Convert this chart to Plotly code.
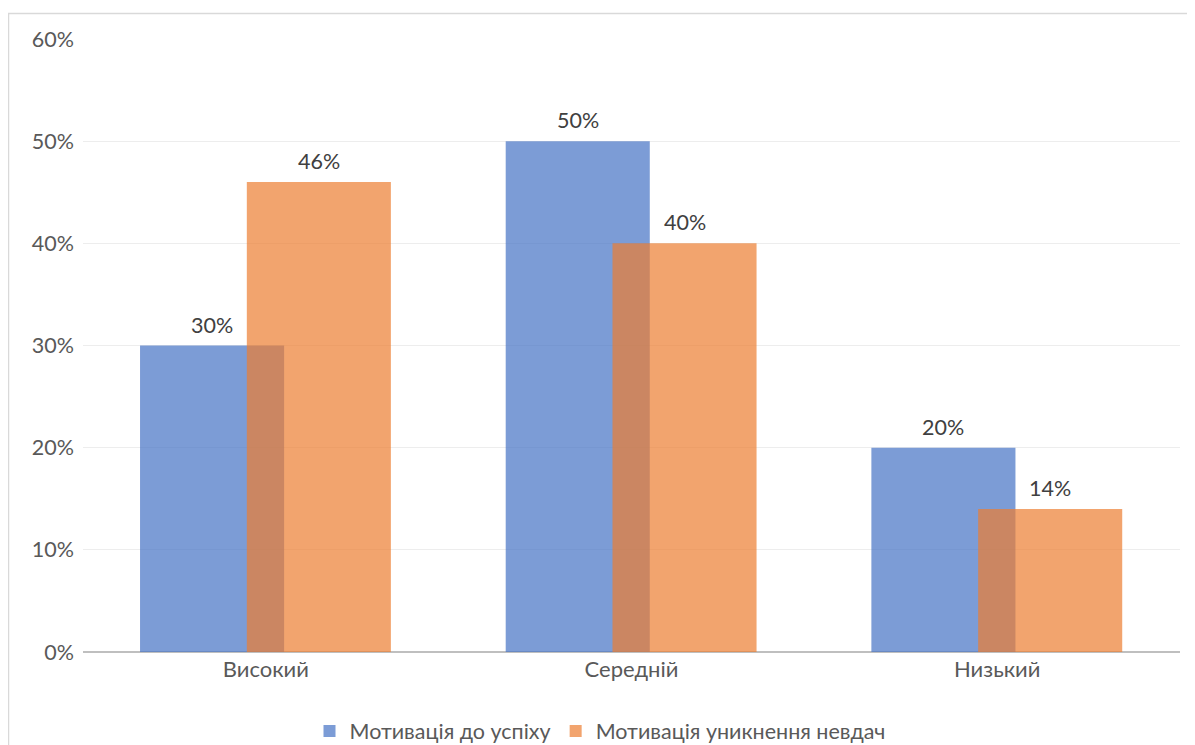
import plotly.graph_objects as go

categories = ["Високий", "Середній", "Низький"]
success = [30, 50, 20]
avoid = [46, 40, 14]
series_names = ["Мотивація до успіху", "Мотивація уникнення невдач"]

# page body adds an 8px margin; figure coordinates are screen minus 8
OX, OY = 8, 8
W, H = 1187, 737
L, T = 83 - OX, 39 - OY
R = W - (1180 - OX)
B = H - (652 - OY)
pw, ph = W - L - R, H - T - B

def px_x(x):
    return (x - OX - L) / pw

def px_y(y):
    return (H - B - (y - OY)) / ph

font = "Lato, 'Open Sans', sans-serif"
FS = 21.5
BW = 0.394
OFF_S, OFF_A = -0.344, -0.052

fig = go.Figure()
fig.add_trace(go.Bar(
    x=categories, y=success, name=series_names[0],
    width=BW, offset=OFF_S,
    marker=dict(color="rgba(68,114,196,0.7)", line=dict(width=0)),
))
fig.add_trace(go.Bar(
    x=categories, y=avoid, name=series_names[1],
    width=BW, offset=OFF_A,
    marker=dict(color="rgba(237,125,49,0.7)", line=dict(width=0)),
))

annotations = []
for i, c in enumerate(categories):
    for vals, off in ((success, OFF_S), (avoid, OFF_A)):
        annotations.append(dict(
            x=i + off + BW / 2, y=vals[i], xref="x", yref="y",
            text=f"{vals[i]}%", showarrow=False,
            yanchor="bottom", yshift=6,
            font=dict(color="#404040", size=FS, family=font),
        ))

fig.update_layout(
    width=W, height=H,
    margin=dict(l=L, r=R, t=T, b=B, autoexpand=False),
    barmode="overlay",
    plot_bgcolor="white", paper_bgcolor="white",
    font=dict(family=font, color="#595959", size=FS),
    showlegend=True,
    annotations=annotations,
    legend=dict(orientation="h", x=px_x(600), xanchor="center",
                y=px_y(731), yanchor="middle",
                font=dict(size=FS, color="#595959"),
                itemwidth=30, traceorder="normal"),
    xaxis=dict(showgrid=False, showline=False, ticks="",
               ticklabelstandoff=2,
               tickfont=dict(size=22, color="#595959")),
    yaxis=dict(range=[0, 60], dtick=10, ticksuffix="%",
               showgrid=True, gridcolor="#EDEDED", gridwidth=1,
               zeroline=True, zerolinecolor="#BFBFBF", zerolinewidth=2,
               showline=False, ticks="", ticklabelstandoff=8,
               tickfont=dict(size=FS, color="#595959")),
    shapes=[dict(type="rect", xref="paper", yref="paper",
                 x0=px_x(8.5), y0=px_y(760), x1=px_x(1210), y1=px_y(13.5),
                 line=dict(color="#D9D9D9", width=1.5), layer="below")],
)

fig.write_html("out.html")
